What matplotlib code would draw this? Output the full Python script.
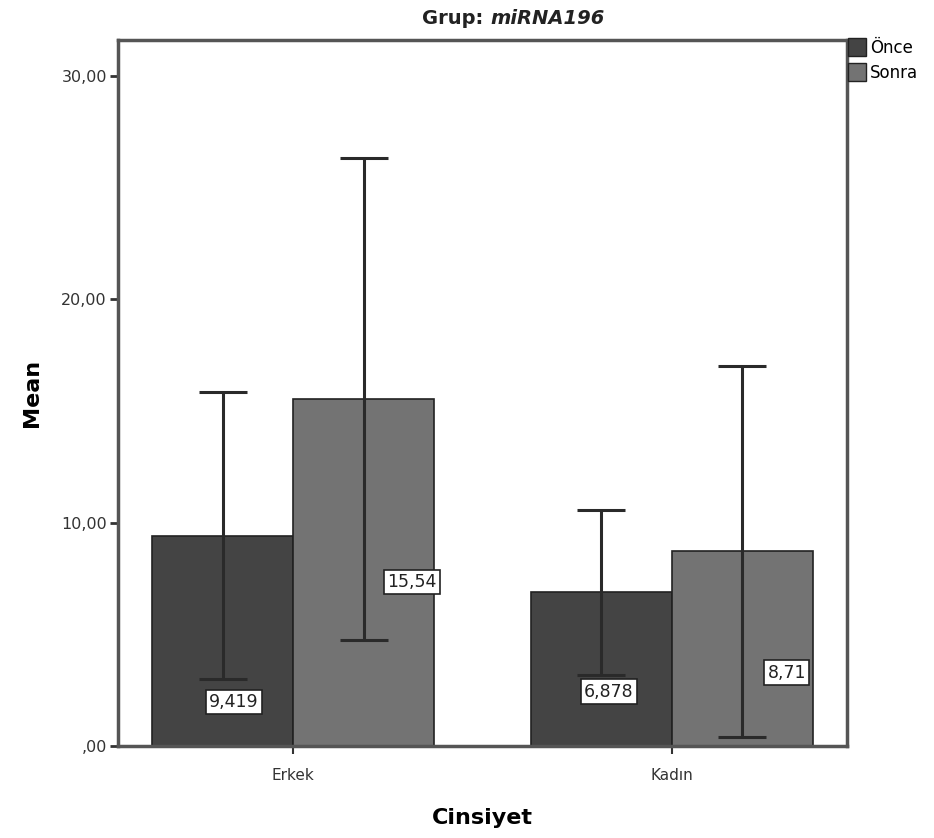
import numpy as np
import matplotlib.pyplot as plt
from matplotlib.patches import Patch

# data
kategoriler = ['Erkek', 'Kadın']
seriler = ['Önce', 'Sonra']
once = [9.419, 6.878]
sonra = [15.54, 8.71]
once_hata = [6.43, 3.70]
sonra_hata = [10.80, 8.30]
etiketler_once = ['9,419', '6,878']
etiketler_sonra = ['15,54', '8,71']
yticks = [0, 10, 20, 30]
ytick_labels = [',00', '10,00', '20,00', '30,00']

renkler = ['#444444', '#737373']

fig = plt.figure(figsize=(9.34, 8.38), dpi=100)
ax = fig.add_axes([118/934, 1-746/838, (847-118)/934, (746-40)/838])

x = np.arange(len(kategoriler))
w = 0.372
ax.bar(x - w/2, once, width=w, color=renkler[0], edgecolor='#222222', linewidth=1.2, zorder=2)
ax.bar(x + w/2, sonra, width=w, color=renkler[1], edgecolor='#222222', linewidth=1.2, zorder=2)
ax.errorbar(x - w/2, once, yerr=once_hata, fmt='none', ecolor='#2a2a2a', elinewidth=2.2,
            capsize=17, capthick=2.2, zorder=3)
ax.errorbar(x + w/2, sonra, yerr=sonra_hata, fmt='none', ecolor='#2a2a2a', elinewidth=2.2,
            capsize=17, capthick=2.2, zorder=3)

# value labels (positions as in the original)
etiket_yer_once = [(-w/2 + 0.03, 1.97), (1 - w/2 + 0.02, 2.42)]
etiket_yer_sonra = [(w/2 + 0.128, 7.34), (1 + w/2 + 0.117, 3.27)]
for (px, py), t in zip(etiket_yer_once + etiket_yer_sonra, etiketler_once + etiketler_sonra):
    ax.text(px, py, t, ha='center', va='center', fontsize=12.5, color='#222222', zorder=4,
            bbox=dict(boxstyle='square,pad=0.2', fc='white', ec='#222222', lw=1.2))

ax.set_xlim(-0.462, 1.462)
ax.set_ylim(0, 31.6)
ax.set_xticks(x)
ax.set_xticklabels(kategoriler, fontsize=11, color='#333333')
ax.set_yticks(yticks)
ax.set_yticklabels(ytick_labels, fontsize=11.5, color='#333333')
ax.tick_params(axis='y', length=6, width=2, color='#333333', pad=2)
ax.tick_params(axis='x', length=6, width=1.5, color='#333333', pad=10)
for s in ax.spines.values():
    s.set_color('#555555')
    s.set_linewidth(2.5)

ax.set_ylabel('Mean', fontsize=16, fontweight='bold', labelpad=14)
ax.set_xlabel('Cinsiyet', fontsize=16, fontweight='bold', labelpad=18)

fig.text(0.525, 0.978, 'Grup: ', ha='right', va='center', fontsize=14, fontweight='bold',
         color='#222222')
fig.text(0.525, 0.978, 'miRNA196', ha='left', va='center', fontsize=14, fontweight='bold',
         style='italic', color='#222222')

handles = [Patch(facecolor=renkler[0], edgecolor='#222222'),
           Patch(facecolor=renkler[1], edgecolor='#222222')]
fig.legend(handles, seriler, loc='upper left', bbox_to_anchor=(848/934, 1-38/838),
           frameon=False, fontsize=12, handlelength=1.1, handleheight=1.3,
           handletextpad=0.2, labelspacing=0.4, borderpad=0, borderaxespad=0)

fig.savefig('out.png', dpi=100)
